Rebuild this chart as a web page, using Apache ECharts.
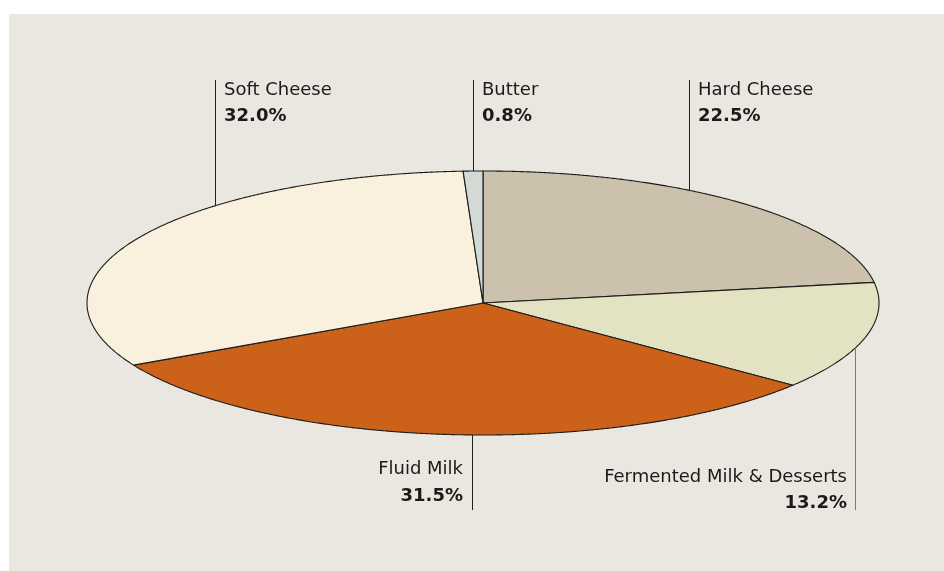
<!DOCTYPE html>
<html><head><meta charset="utf-8">
<script src="https://cdn.jsdelivr.net/npm/echarts@6/dist/echarts.min.js"></script>
<style>html,body{margin:0;padding:0;background:#fff}#c{width:944px;height:571px}</style>
</head><body><div id="c"></div>
<script>
// ---- data ----
const categories = ['Hard Cheese', 'Fermented Milk & Desserts', 'Fluid Milk', 'Soft Cheese', 'Butter'];
const shares = [22.5, 13.2, 31.5, 32.0, 0.8];
const shareLabels = ['22.5%', '13.2%', '31.5%', '32.0%', '0.8%'];

// ---- styles / layout ----
const sliceColors = ['#cbc1ad', '#e3e3c4', '#cc6219', '#f9f1de', '#d3d9d5'];
const labelLayout = [
  {lineX: 689.5, end: 80, side: 'top', textX: 698, y1: 90, y2: 116, align: 'left', lineColor: '#1e1e1e'},
  {lineX: 855.5, end: 510, side: 'bottom', textX: 847, y1: 477, y2: 503, align: 'right', lineColor: '#7a7a7a'},
  {lineX: 472.5, end: 510, side: 'bottom', textX: 463, y1: 469, y2: 496, align: 'right', lineColor: '#1e1e1e'},
  {lineX: 215.5, end: 80, side: 'top', textX: 224, y1: 90, y2: 116, align: 'left', lineColor: '#1e1e1e'},
  {lineX: 473.5, end: 80, side: 'top', textX: 482, y1: 90, y2: 116, align: 'left', lineColor: '#1e1e1e'}
];
const CX = 483, CY = 303, RX = 396, RY = 132;
const FONT = "'DejaVu Sans', sans-serif";
const total = shares.reduce((a, b) => a + b, 0);

function sliceItem(params, api) {
  const i = params.dataIndex;
  let before = 0;
  for (let k = 0; k < i; k++) before += shares[k];
  const v = api.value(1);
  const a0 = before / total * 2 * Math.PI, a1 = (before + v) / total * 2 * Math.PI;
  const pts = [[CX, CY]];
  const n = Math.max(4, Math.ceil((a1 - a0) / (Math.PI / 720)));
  for (let s = 0; s <= n; s++) {
    const a = a0 + (a1 - a0) * s / n;
    pts.push([CX + RX * Math.sin(a), CY - RY * Math.cos(a)]);
  }
  return {
    type: 'polygon',
    shape: {points: pts},
    style: {fill: sliceColors[i], stroke: '#1c1c1c', lineWidth: 1.1, lineJoin: 'round'}
  };
}

function labelItem(params, api) {
  const i = params.dataIndex;
  const L = labelLayout[i];
  const dx = (L.lineX - CX) / RX;
  const h = RY * Math.sqrt(Math.max(0, 1 - dx * dx));
  const edgeY = L.side === 'top' ? CY - h : CY + h;
  return {
    type: 'group',
    children: [
      {type: 'line', shape: {x1: L.lineX, y1: edgeY, x2: L.lineX, y2: L.end},
       style: {stroke: L.lineColor, lineWidth: 1}},
      {type: 'text', style: {text: categories[i], x: L.textX, y: L.y1, align: L.align,
        verticalAlign: 'middle', font: '18px ' + FONT, fill: '#1a1a1a'}},
      {type: 'text', style: {text: shareLabels[i], x: L.textX, y: L.y2, align: L.align,
        verticalAlign: 'middle', font: 'bold 18px ' + FONT, fill: '#1a1a1a'}}
    ]
  };
}

const data = shares.map((v, i) => ({name: categories[i], value: [i, v]}));

const chart = echarts.init(document.getElementById('c'), null, {renderer: 'canvas'});
chart.setOption({
  backgroundColor: '#ffffff',
  animation: false,
  graphic: [{type: 'rect', z: -10, shape: {x: 9, y: 14, width: 935, height: 557},
    style: {fill: '#eae7e1'}, silent: true}],
  series: [
    {type: 'custom', coordinateSystem: 'none', renderItem: sliceItem, data: data, z: 2, silent: true},
    {type: 'custom', coordinateSystem: 'none', renderItem: labelItem, data: data, z: 3, silent: true}
  ]
});
</script></body></html>
